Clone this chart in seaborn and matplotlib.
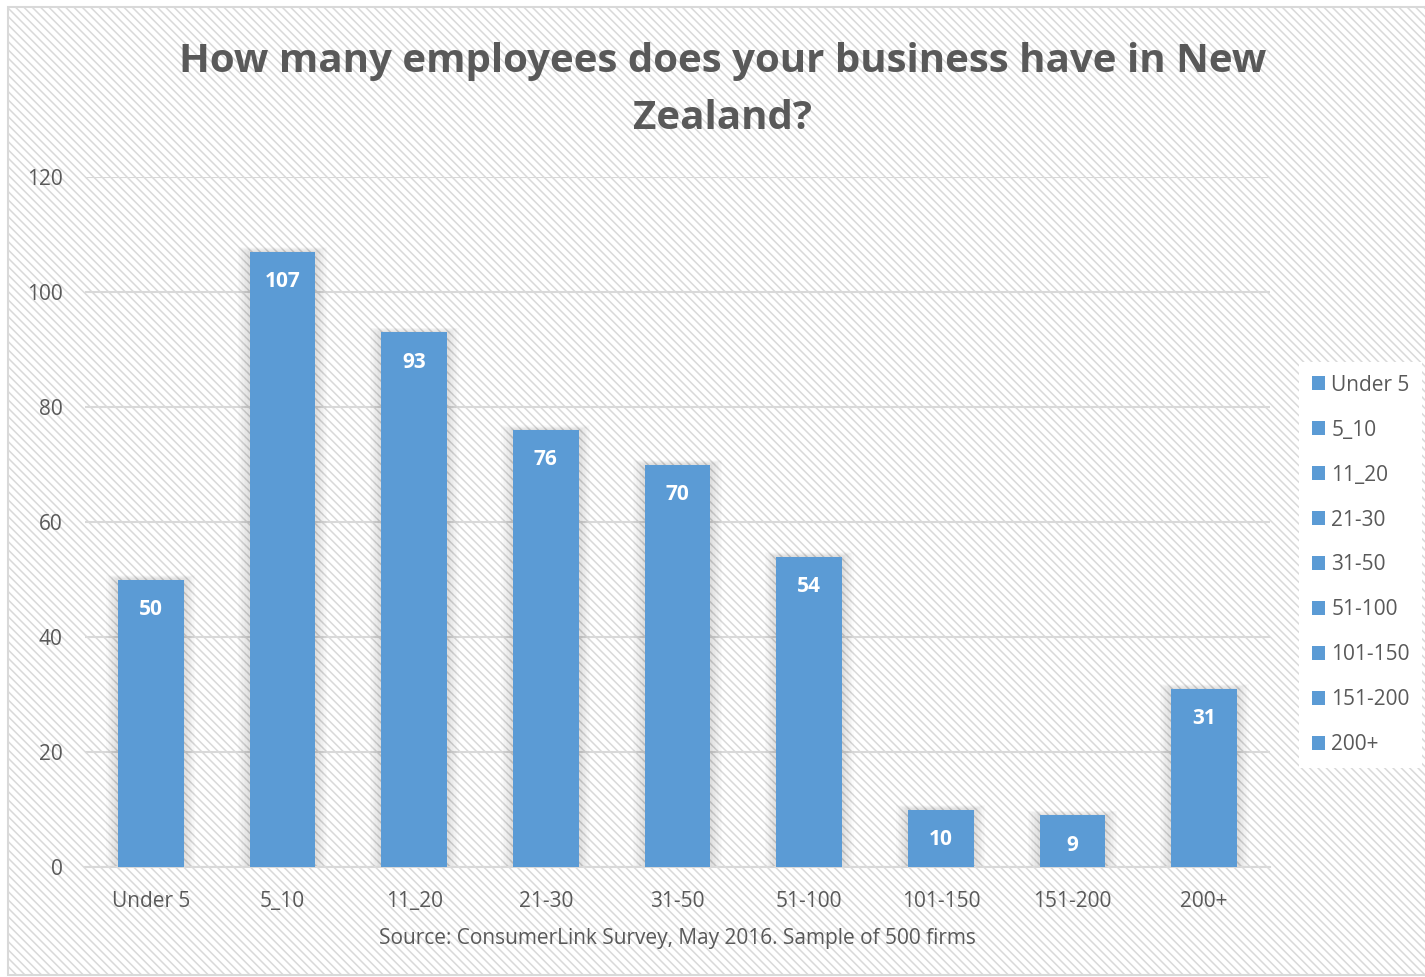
import matplotlib
matplotlib.use("Agg")
import matplotlib.pyplot as plt
import matplotlib.patches as mpatches
import seaborn as sns
import pandas as pd

categories = ["Under 5", "5_10", "11_20", "21-30", "31-50", "51-100", "101-150", "151-200", "200+"]
counts = [50, 107, 93, 76, 70, 54, 10, 9, 31]
y_ticks = [0, 20, 40, 60, 80, 100, 120]

title_text = "How many employees does your business have in New\nZealand?"
source_text = "Source: ConsumerLink Survey, May 2016. Sample of 500 firms"

BAR = "#5b9bd5"
TEXT = "#595959"
GRID = "#d9d9d9"
FONT = ["Open Sans", "DejaVu Sans"]

sns.set_theme(style="white")
plt.rcParams["font.family"] = FONT
plt.rcParams["hatch.color"] = "#f6f6f6"
plt.rcParams["hatch.linewidth"] = 1.1

df = pd.DataFrame({"group": categories, "count": counts})

fig = plt.figure(figsize=(14.25, 9.77), dpi=100)
fig.patch.set_facecolor("white")

# striped chart-area background with a thin frame
bg = mpatches.Rectangle((8 / 1425, 2 / 977), 1.0, 1 - 9 / 977, transform=fig.transFigure,
                        facecolor="white", edgecolor="#d9d9d9", linewidth=1.5,
                        hatch="\\\\\\\\", zorder=-5)
fig.patches.append(bg)

ax = fig.add_axes([85 / 1425, 1 - 867 / 977, (1270 - 85) / 1425, (867 - 177) / 977])
ax.set_facecolor("none")
ax.set_zorder(2)

sns.barplot(data=df, x="group", y="count", hue="group", order=categories,
            hue_order=categories, palette=[BAR] * len(categories), width=0.5,
            dodge=False, legend=True, saturation=1, linewidth=0, ax=ax, zorder=3)

# soft drop shadow behind each bar
for p in list(ax.patches):
    x0, w, h = p.get_x(), p.get_width(), p.get_height()
    for k in range(1, 9):
        pad = 0.011 * k
        ax.add_patch(mpatches.Rectangle((x0 - pad, 0), w + 2 * pad, h + pad * 9,
                                        facecolor="#000000", alpha=0.016,
                                        edgecolor="none", zorder=2))

# value labels inside the top of each bar
for i, v in enumerate(counts):
    ax.annotate(str(v), (i, v), xytext=(0, -14), textcoords="offset points",
                ha="center", va="top", color="white", fontsize=15,
                fontweight="bold")

ax.set_xlim(-0.5, len(categories) - 0.5)
ax.set_ylim(0, 120)
ax.set_yticks(y_ticks)
ax.set_yticklabels([str(t) for t in y_ticks])
ax.yaxis.grid(True, color=GRID, linewidth=1.5, zorder=1)
ax.set_axisbelow(True)
for s in ["top", "right", "left"]:
    ax.spines[s].set_visible(False)
ax.spines["bottom"].set_color(GRID)
ax.spines["bottom"].set_linewidth(1.5)
ax.tick_params(axis="both", length=0, labelsize=15, labelcolor=TEXT)
ax.tick_params(axis="y", pad=16)
ax.tick_params(axis="x", pad=17)
ax.set_ylabel("")
ax.set_xlabel(source_text, fontsize=15, color=TEXT, labelpad=12)

fig.text(723 / 1425, 1 - 90 / 977, title_text, ha="center", va="center",
         fontsize=29, fontweight="bold", color=TEXT, linespacing=1.6)

handles, labels = ax.get_legend_handles_labels()
leg = ax.legend(handles, labels, loc="center left",
                bbox_to_anchor=(1299 / 1425, 1 - 565 / 977), bbox_transform=fig.transFigure,
                frameon=True, fontsize=15, labelcolor=TEXT, handlelength=0.65,
                handleheight=0.65, handletextpad=0.3, labelspacing=1.15,
                borderpad=0.6, borderaxespad=0, fancybox=False, framealpha=1)
leg.get_frame().set_edgecolor("white")
leg.get_frame().set_linewidth(0)

fig.savefig("out.png", dpi=100, facecolor="white")
